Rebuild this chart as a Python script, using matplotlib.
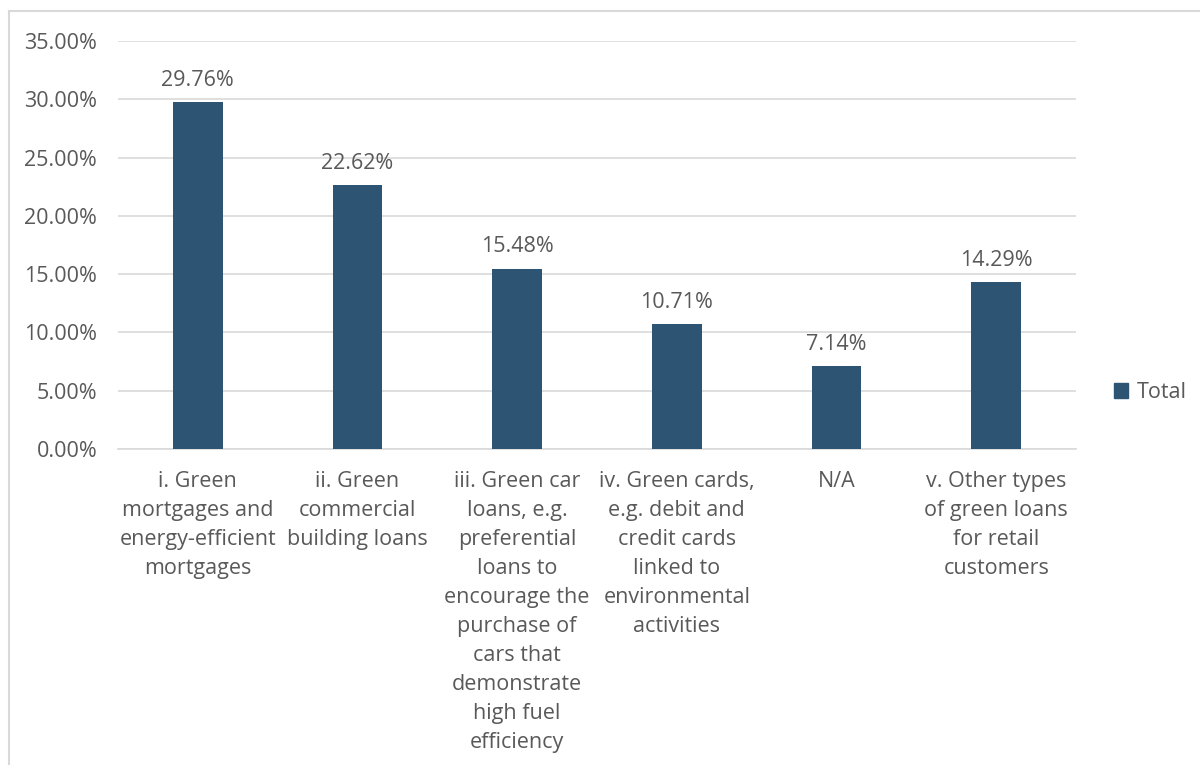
import matplotlib.pyplot as plt
from matplotlib.lines import Line2D
from matplotlib.patches import Patch
from matplotlib.ticker import FuncFormatter

categories = [
    "i. Green\nmortgages and\nenergy-efficient\nmortgages",
    "ii. Green\ncommercial\nbuilding loans",
    "iii. Green car\nloans, e.g.\npreferential\nloans to\nencourage the\npurchase of\ncars that\ndemonstrate\nhigh fuel\nefficiency",
    "iv. Green cards,\ne.g. debit and\ncredit cards\nlinked to\nenvironmental\nactivities",
    "N/A",
    "v. Other types\nof green loans\nfor retail\ncustomers",
]
values = [29.76, 22.62, 15.48, 10.71, 7.14, 14.29]
yticks = [0, 5, 10, 15, 20, 25, 30, 35]

bar_col = "#2E5473"
txt_col = "#595959"
grid_col = "#D9D9D9"

plt.rcParams['font.family'] = ['Open Sans', 'DejaVu Sans']
fs = 15.5

fig = plt.figure(figsize=(12, 7.65), dpi=100)
ax = fig.add_axes([0.0983, 0.4131, 0.7984, 0.5333])

x = range(len(values))
bars = ax.bar(x, values, width=0.31, color=bar_col, zorder=3)

for b, v in zip(bars, values):
    ax.annotate(f"{v:.2f}%", (b.get_x() + b.get_width() / 2, v),
                xytext=(0, 8), textcoords="offset points",
                ha="center", va="bottom", fontsize=fs, color=txt_col)

ax.set_xlim(-0.5, len(values) - 0.5)
ax.set_ylim(0, 35)
ax.set_yticks(yticks)
ax.yaxis.set_major_formatter(FuncFormatter(lambda v, p: f"{v:.2f}%"))
ax.set_xticks(list(x))
ax.set_xticklabels(categories, fontsize=fs, color=txt_col, linespacing=1.5, va="top")
ax.tick_params(axis="y", length=0, pad=15, labelsize=fs, labelcolor=txt_col)
ax.tick_params(axis="x", length=0, pad=15.5)
ax.grid(axis="y", color=grid_col, linewidth=1.2, zorder=0)
for s in ["top", "right", "left"]:
    ax.spines[s].set_visible(False)
ax.spines["bottom"].set_color(grid_col)
ax.spines["bottom"].set_linewidth(1.2)

fig.legend(handles=[Patch(color=bar_col, label="Total")], loc="center left",
           bbox_to_anchor=(0.912, 0.487), frameon=False, fontsize=fs,
           handlelength=0.65, handleheight=0.65, handletextpad=0.4, labelcolor=txt_col)

# outer chart border (top and left visible)
fig.add_artist(Line2D([9 / 1200, 1], [1 - 11 / 765, 1 - 11 / 765], color=grid_col, lw=1.5))
fig.add_artist(Line2D([9 / 1200, 9 / 1200], [0, 1 - 11 / 765], color=grid_col, lw=1.5))

fig.savefig("out.png", dpi=100)
